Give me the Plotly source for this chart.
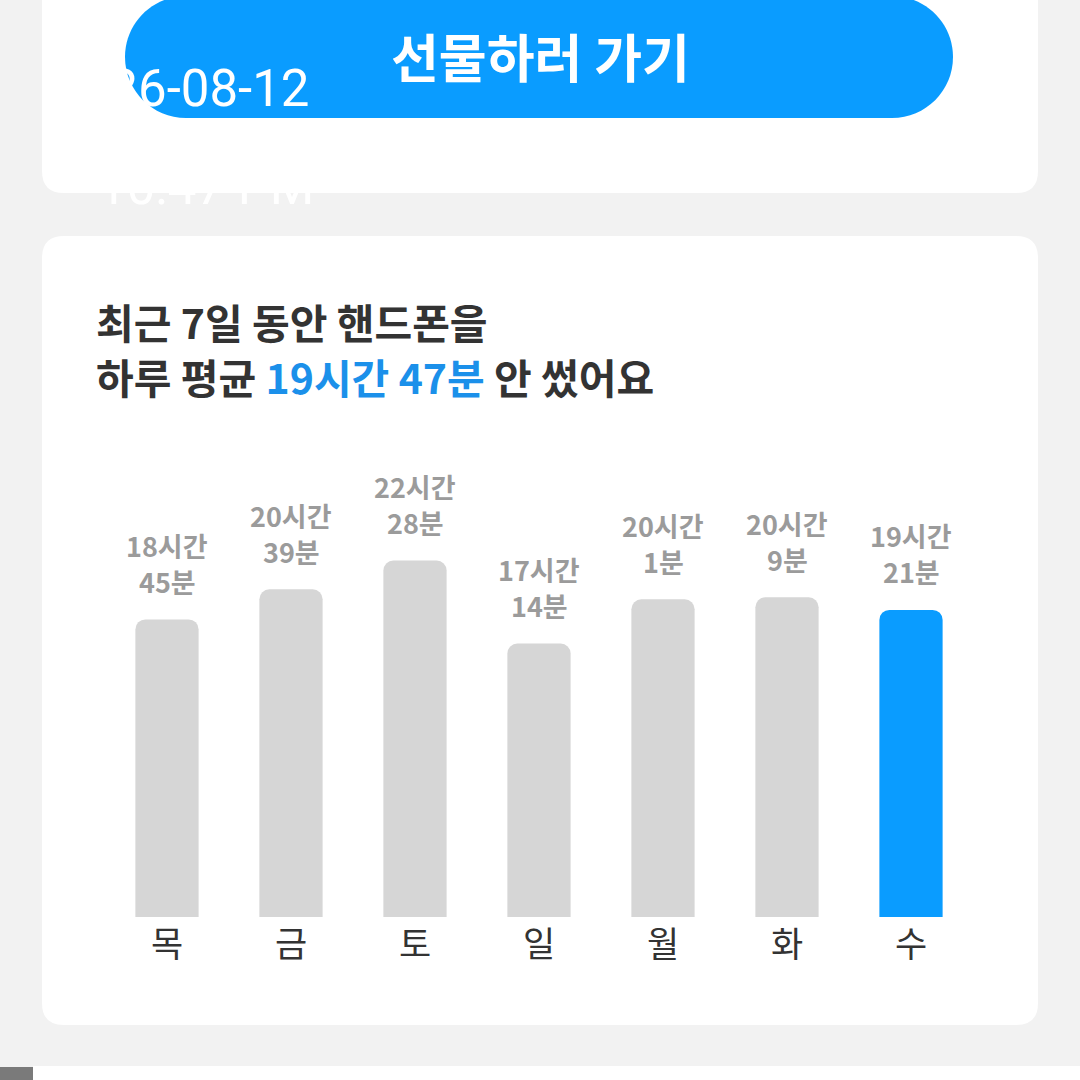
import plotly.graph_objects as go

# ---- data ----
days = ["목", "금", "토", "일", "월", "화", "수"]
hours = [18, 20, 22, 17, 20, 20, 19]
minutes = [45, 39, 28, 14, 1, 9, 21]
highlight = [False, False, False, False, False, False, True]
title_line1 = "최근 7일 동안 핸드폰을"
title_line2_pre = "하루 평균 "
title_line2_hi = "19시간 47분"
title_line2_post = " 안 썼어요"
button_text = "선물하러 가기"
stamp_date = "2026-08-12"
stamp_time = "10:47 PM"

values = [h + m / 60 for h, m in zip(hours, minutes)]
hour_labels = [f"{h}시간" for h in hours]
minute_labels = [f"{m}분" for m in minutes]

W = H = 1080
BLUE = "#0a9cff"
GRAY_BAR = "#d6d6d6"
KFONT = "Noto Sans CJK KR"


def px(x):
    return x / W


def py(y):
    return 1 - y / H


def rrect(x0, y0, x1, y1, r):
    pts = [
        f"M {px(x0 + r)} {py(y0)}",
        f"L {px(x1 - r)} {py(y0)}",
        f"Q {px(x1)} {py(y0)} {px(x1)} {py(y0 + r)}",
        f"L {px(x1)} {py(y1 - r)}",
        f"Q {px(x1)} {py(y1)} {px(x1 - r)} {py(y1)}",
        f"L {px(x0 + r)} {py(y1)}",
        f"Q {px(x0)} {py(y1)} {px(x0)} {py(y1 - r)}",
        f"L {px(x0)} {py(y0 + r)}",
        f"Q {px(x0)} {py(y0)} {px(x0 + r)} {py(y0)}",
        "Z",
    ]
    return " ".join(pts)


def pill(x0, y0, x1, y1):
    r = (y1 - y0) / 2
    k = 0.5523 * r
    pts = [
        f"M {px(x0 + r)} {py(y0)}",
        f"L {px(x1 - r)} {py(y0)}",
        f"C {px(x1 - r + k)} {py(y0)} {px(x1)} {py(y0 + r - k)} {px(x1)} {py(y0 + r)}",
        f"C {px(x1)} {py(y0 + r + k)} {px(x1 - r + k)} {py(y1)} {px(x1 - r)} {py(y1)}",
        f"L {px(x0 + r)} {py(y1)}",
        f"C {px(x0 + r - k)} {py(y1)} {px(x0)} {py(y0 + r + k)} {px(x0)} {py(y0 + r)}",
        f"C {px(x0)} {py(y0 + r - k)} {px(x0 + r - k)} {py(y0)} {px(x0 + r)} {py(y0)}",
        "Z",
    ]
    return " ".join(pts)


bar_colors = [BLUE if h else GRAY_BAR for h in highlight]

fig = go.Figure()
fig.add_trace(
    go.Bar(
        x=days,
        y=values,
        marker=dict(color=bar_colors, line=dict(width=0), cornerradius=10),
        hoverinfo="skip",
    )
)

plot_top, plot_bottom = 236, 917
px_per_hour = 15.87
yrange_max = (plot_bottom - plot_top) / px_per_hour

fig.update_layout(
    width=W,
    height=H,
    margin=dict(l=0, r=0, t=0, b=0),
    paper_bgcolor="#f2f2f2",
    plot_bgcolor="rgba(0,0,0,0)",
    showlegend=False,
    bargap=0.49,
    xaxis=dict(
        domain=[px(105), px(973)],
        showgrid=False,
        zeroline=False,
        showline=False,
        ticks="",
        ticklabelstandoff=4,
        tickfont=dict(family=KFONT, size=35, color="#333333"),
        fixedrange=True,
    ),
    yaxis=dict(
        domain=[py(plot_bottom), py(plot_top)],
        range=[0, yrange_max],
        visible=False,
        fixedrange=True,
    ),
)

shapes = [
    dict(type="path", path=rrect(42, -40, 1038, 193, 22), xref="paper", yref="paper",
         fillcolor="white", line=dict(width=0), layer="below"),
    dict(type="path", path=pill(125, -4, 953, 118), xref="paper", yref="paper",
         fillcolor=BLUE, line=dict(width=0), layer="below"),
    dict(type="path", path=rrect(42, 236, 1038, 1025, 22), xref="paper", yref="paper",
         fillcolor="white", line=dict(width=0), layer="below"),
    dict(type="rect", x0=px(33), x1=px(1080), y0=py(1066), y1=py(1085), xref="paper", yref="paper",
         fillcolor="white", line=dict(width=0), layer="below"),
    dict(type="rect", x0=px(0), x1=px(33), y0=py(1067), y1=py(1085), xref="paper", yref="paper",
         fillcolor="#7a7a7a", line=dict(width=0), layer="below"),
]
fig.update_layout(shapes=shapes)

ann = []
label_font = dict(family=KFONT, size=27, color="#9b9b9b", weight="bold")
# value labels (two lines per bar)
for d, v, hl, ml in zip(days, values, hour_labels, minute_labels):
    ann.append(dict(x=d, y=v, xref="x", yref="y", text=ml, showarrow=False, borderpad=0,
                    yanchor="middle", yshift=38, font=label_font))
    ann.append(dict(x=d, y=v, xref="x", yref="y", text=hl, showarrow=False, borderpad=0,
                    yanchor="middle", yshift=74, font=label_font))
# title
title_font = dict(family=KFONT, size=41, color="#333333", weight="bold")
ann.append(dict(x=px(95), y=py(321), xref="paper", yref="paper", xanchor="left", yanchor="middle",
                text=title_line1, showarrow=False, borderpad=0, font=title_font))
ann.append(dict(x=px(95), y=py(376), xref="paper", yref="paper", xanchor="left", yanchor="middle",
                text=f"{title_line2_pre}<span style='color:#1b90ea'>{title_line2_hi}</span>{title_line2_post}",
                showarrow=False, borderpad=0, font=title_font))
# button
ann.append(dict(x=px(540), y=py(56), xref="paper", yref="paper", xanchor="center", yanchor="middle",
                text=button_text, showarrow=False,
                font=dict(family=KFONT, size=52, color="white", weight="bold")))
# timestamp watermark
ann.append(dict(x=px(312), y=py(88), xref="paper", yref="paper", xanchor="right", yanchor="middle",
                text=stamp_date, showarrow=False,
                font=dict(family="Roboto", size=51, color="white")))
ann.append(dict(x=px(316), y=py(186), xref="paper", yref="paper", xanchor="right", yanchor="middle",
                text=stamp_time, showarrow=False,
                font=dict(family="Roboto", size=51, color="white")))
fig.update_layout(annotations=ann)

fig.write_html(
    "out.html",
    config={"displayModeBar": False},
    post_script="document.body.style.margin='0';document.body.style.overflow='hidden';",
)
